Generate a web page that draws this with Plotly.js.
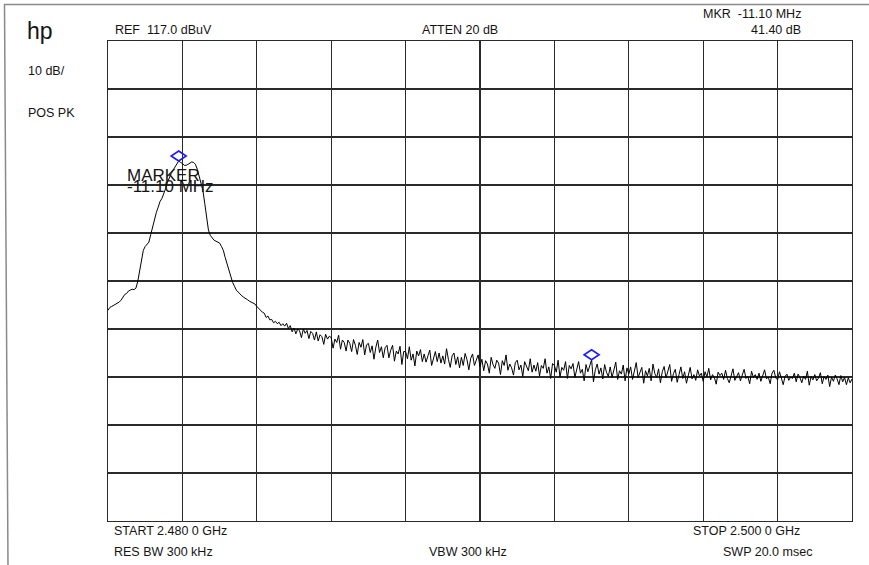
<!DOCTYPE html>
<html>
<head>
<meta charset="utf-8">
<script src="https://cdn.plot.ly/plotly-3.0.1.min.js"></script>
<style>
  html, body { margin: 0; padding: 0; background: #ffffff; }
  #plot { width: 869px; height: 565px; }
</style>
</head>
<body>
<div id="plot"></div>
<script>
// Sweep settings of the analyzer
const startGHz = 2.480;
const stopGHz = 2.500;
const refLevelDbuV = 117.0;
const dbPerDiv = 10;
const divisions = 10;

// Positive-peak trace, 401 points across the span (dBuV)
const traceDbuV = [
  60.9, 61.5, 61.7, 61.9, 62.2, 62.4, 62.6, 63.0, 63.6, 64.2,
  64.4, 64.9, 65.1, 65.3, 65.2, 65.5, 66.9, 69.2, 71.9, 73.4,
  74.2, 74.7, 75.1, 76.7, 78.4, 80.1, 81.3, 82.4, 83.6, 84.2,
  85.1, 86.3, 87.6, 88.6, 89.4, 90.1, 90.7, 91.3, 92.0, 91.7,
  91.5, 91.1, 91.1, 91.3, 91.5, 91.8, 91.7, 91.3, 90.3, 89.0,
  87.6, 85.9, 83.2, 80.1, 77.6, 76.5, 75.9, 75.5, 75.3, 75.1,
  74.9, 74.2, 73.4, 71.9, 70.5, 69.2, 68.0, 66.7, 65.9, 65.1,
  64.7, 64.2, 63.9, 63.6, 63.4, 63.1, 62.8, 62.6, 62.3, 62.2,
  61.7, 61.3, 60.7, 60.5, 60.3, 59.4, 59.7, 58.9, 59.0, 58.3,
  58.6, 58.1, 58.4, 57.7, 58.1, 57.6, 58.2, 57.1, 57.7, 56.4,
  57.2, 56.0, 57.0, 56.6, 55.2, 57.0, 56.1, 56.7, 55.0, 56.5,
  56.1, 54.7, 56.4, 54.5, 55.8, 55.4, 53.8, 55.9, 54.9, 55.5,
  55.2, 53.0, 54.9, 54.2, 55.7, 52.8, 54.7, 54.2, 52.4, 54.7,
  54.0, 52.3, 54.8, 53.6, 51.7, 54.2, 53.2, 54.8, 51.6, 53.7,
  54.0, 52.1, 53.5, 50.7, 53.2, 54.7, 52.1, 53.3, 51.0, 53.1,
  53.6, 51.0, 52.6, 53.6, 50.3, 52.4, 51.8, 53.4, 49.6, 52.3,
  52.3, 50.8, 53.3, 50.5, 51.8, 49.3, 52.4, 51.4, 52.7, 50.2,
  51.8, 50.1, 51.4, 52.6, 49.4, 51.2, 52.3, 50.2, 52.0, 49.9,
  51.4, 49.7, 52.9, 50.7, 49.0, 51.4, 52.0, 49.6, 51.2, 48.9,
  51.1, 49.4, 51.9, 50.6, 48.5, 50.9, 51.8, 49.4, 50.6, 51.6,
  49.1, 50.7, 48.3, 50.4, 49.7, 47.8, 51.1, 49.6, 48.8, 50.5,
  49.9, 47.5, 50.4, 49.4, 51.6, 48.4, 49.7, 48.9, 47.4, 50.0,
  50.5, 48.5, 49.5, 47.1, 50.2, 49.0, 48.3, 50.8, 48.0, 49.5,
  48.2, 50.0, 47.2, 49.4, 48.8, 50.8, 47.8, 49.1, 46.7, 49.8,
  49.4, 48.0, 50.5, 47.0, 49.0, 48.4, 50.2, 46.7, 49.4, 48.7,
  49.8, 46.9, 48.9, 50.2, 47.8, 48.6, 46.2, 49.6, 48.1, 49.2,
  50.6, 46.0, 48.5, 49.7, 47.6, 48.9, 46.6, 49.6, 48.0, 47.1,
  49.1, 46.9, 48.4, 50.1, 46.5, 48.3, 47.6, 49.5, 46.2, 48.9,
  47.6, 49.1, 46.5, 48.0, 50.0, 46.9, 47.8, 49.0, 45.7, 48.3,
  47.2, 48.8, 46.2, 49.7, 47.7, 46.9, 48.7, 45.8, 48.1, 49.2,
  46.8, 48.1, 49.6, 46.1, 47.7, 48.6, 45.9, 47.5, 49.1, 46.7,
  48.1, 45.7, 47.6, 49.0, 46.6, 47.5, 46.3, 48.5, 47.2, 47.8,
  46.1, 48.1, 47.0, 48.8, 46.4, 47.5, 46.9, 45.5, 48.0, 47.3,
  47.8, 46.5, 48.4, 46.7, 45.8, 47.6, 48.7, 46.3, 47.2, 47.9,
  46.2, 47.5, 48.6, 46.7, 47.1, 45.6, 48.2, 46.9, 47.5, 46.5,
  47.8, 46.1, 47.2, 48.5, 46.6, 47.0, 45.6, 47.8, 48.4, 46.8,
  46.4, 48.1, 46.8, 45.4, 47.1, 47.6, 46.3, 47.0, 46.7, 47.8,
  46.0, 47.6, 46.9, 45.8, 47.2, 46.5, 48.2, 45.3, 47.1, 46.4,
  47.5, 46.2, 46.8, 47.9, 45.6, 47.1, 46.5, 47.4, 45.0, 47.0,
  46.1, 47.4, 46.6, 45.4, 47.3, 46.0, 46.9, 45.4, 46.8, 45.8, 46.6
];

// Trace points holding the delta marker (peak) and its reference marker
const markerIndex = [38, 260];

// Header / footer annotation texts
const headerLabels = ["hp", "10 dB/", "POS PK", "REF  117.0 dBuV", "ATTEN 20 dB"];
const footerLabels = ["START 2.480 0 GHz", "STOP 2.500 0 GHz", "RES BW 300 kHz", "VBW 300 kHz", "SWP 20.0 msec"];

const stepGHz = (stopGHz - startGHz) / (traceDbuV.length - 1);
const markerFreq = markerIndex.map(i => startGHz + i * stepGHz);
const markerLevel = markerIndex.map(i => traceDbuV[i]);
const deltaMHz = ((markerFreq[0] - markerFreq[1]) * 1000).toFixed(2);
const deltaDb = (markerLevel[0] - markerLevel[1]).toFixed(2);

const W = 869, H = 565;
const M = { l: 108, r: 17, t: 41, b: 44 };
const PW = W - M.l - M.r, PH = H - M.t - M.b;
// pixel -> paper helpers for page-level text
const px = x => (x - M.l) / PW;
const py = y => 1 - (y - M.t) / PH;

const FONT = "Liberation Sans, Arial, sans-serif";
const INK = "#141414";

function label(text, x, y, xanchor, size, extra) {
  return Object.assign({
    text: text, xref: "paper", yref: "paper", x: px(x), y: py(y),
    xanchor: xanchor, yanchor: "middle", showarrow: false, borderpad: 0,
    font: { family: FONT, size: size || 12.5, color: INK }
  }, extra || {});
}

const annotations = [
  label(headerLabels[0], 26, 31, "left", 23),
  label(headerLabels[1], 27, 71, "left"),
  label(headerLabels[2], 27, 113.5, "left"),
  label(headerLabels[3], 114, 29.5, "left"),
  label(headerLabels[4], 460, 29.5, "center"),
  label("MKR  " + deltaMHz + " MHz", 802, 14, "right"),
  label(deltaDb + " dB", 802, 29.5, "right"),
  label(footerLabels[0], 113, 531, "left"),
  label(footerLabels[1], 801, 531, "right"),
  label(footerLabels[2], 113, 552, "left"),
  label(footerLabels[3], 468, 552, "center"),
  label(footerLabels[4], 813, 552, "right"),
  label("MARKER", 126, 175, "left", 17),
  label(deltaMHz + " MHz", 126, 186.5, "left", 17)
];

// Diamond marker symbols sitting on the trace points
const diamondShapes = markerIndex.map((idx, k) => ({
  type: "path", xref: "x", yref: "y",
  xsizemode: "pixel", ysizemode: "pixel",
  xanchor: markerFreq[k], yanchor: markerLevel[k],
  path: "M -7.5 5 L 0 0 L 7.5 5 L 0 10 Z",
  line: { color: "#1a1aff", width: 1.6 }
}));

// Page frame (top and left edge)
const frameShapes = [
  { type: "line", xref: "paper", yref: "paper", x0: px(4), y0: py(4.5), x1: px(869), y1: py(4.5),
    line: { color: "#8a8a8a", width: 1.5 } },
  { type: "line", xref: "paper", yref: "paper", x0: px(4.5), y0: py(4), x1: px(8), y1: py(565),
    line: { color: "#8a8a8a", width: 1.5 } }
];

const trace = {
  type: "scatter", mode: "lines",
  x0: startGHz, dx: stepGHz, y: traceDbuV,
  line: { color: "#000000", width: 1 },
  hoverinfo: "skip"
};

const gridColor = "#2a2a2a";
const layout = {
  width: W, height: H,
  margin: M,
  paper_bgcolor: "#ffffff", plot_bgcolor: "#ffffff",
  showlegend: false,
  font: { family: FONT, color: INK },
  xaxis: {
    range: [startGHz, stopGHz], tick0: startGHz, dtick: (stopGHz - startGHz) / divisions,
    showticklabels: false, ticks: "", showgrid: true, gridcolor: gridColor, gridwidth: 1.2,
    zeroline: false, showline: true, mirror: true, linecolor: gridColor, linewidth: 1.2,
    fixedrange: true
  },
  yaxis: {
    range: [refLevelDbuV - dbPerDiv * divisions, refLevelDbuV], tick0: refLevelDbuV, dtick: dbPerDiv,
    showticklabels: false, ticks: "", showgrid: true, gridcolor: gridColor, gridwidth: 1.2,
    zeroline: false, showline: true, mirror: true, linecolor: gridColor, linewidth: 1.2,
    fixedrange: true
  },
  annotations: annotations,
  shapes: frameShapes.concat(diamondShapes)
};

Plotly.newPlot("plot", [trace], layout, { staticPlot: true, displayModeBar: false });
</script>
</body>
</html>
